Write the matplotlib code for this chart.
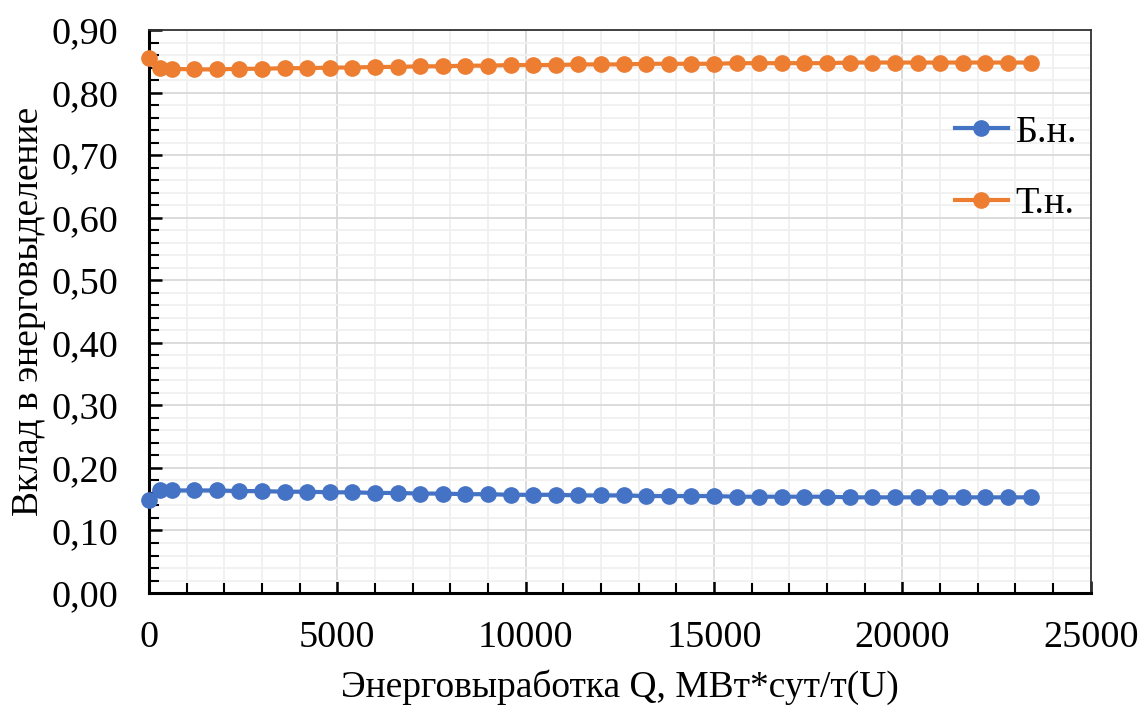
import matplotlib
matplotlib.use("Agg")
import matplotlib.pyplot as plt
from matplotlib.ticker import MultipleLocator, FuncFormatter

plt.rcParams['font.family'] = ['Liberation Serif', 'DejaVu Serif']

burnup = [0, 300, 600, 1200, 1800, 2400, 3000, 3600, 4200, 4800, 5400,
          6000, 6600, 7200, 7800, 8400, 9000, 9600, 10200, 10800, 11400,
          12000, 12600, 13200, 13800, 14400, 15000, 15600, 16200, 16800,
          17400, 18000, 18600, 19200, 19800, 20400, 21000, 21600, 22200,
          22800, 23400]

fast = [0.148, 0.164, 0.164, 0.164, 0.164, 0.163, 0.163, 0.162, 0.162, 0.161, 0.161,
        0.160, 0.160, 0.159, 0.159, 0.158, 0.158, 0.157, 0.157, 0.157, 0.156,
        0.156, 0.156, 0.155, 0.155, 0.155, 0.155, 0.154, 0.154, 0.154,
        0.154, 0.154, 0.153, 0.153, 0.153, 0.153, 0.153, 0.153, 0.153,
        0.153, 0.153]

thermal = [0.855, 0.839, 0.838, 0.837, 0.837, 0.838, 0.838, 0.839, 0.839, 0.840, 0.840,
           0.841, 0.841, 0.842, 0.842, 0.843, 0.843, 0.844, 0.844, 0.844, 0.845,
           0.845, 0.845, 0.846, 0.846, 0.846, 0.846, 0.847, 0.847, 0.847,
           0.847, 0.847, 0.848, 0.848, 0.848, 0.848, 0.848, 0.848, 0.848,
           0.848, 0.848]

series_labels = ["Б.н.", "Т.н."]
colors = ["#4472C4", "#ED7D31"]

fig = plt.figure(figsize=(11.41, 7.06), dpi=100)
ax = fig.add_axes([0.1306, 0.160, 0.8254, 0.7975])

for vals, lab, c in zip([fast, thermal], series_labels, colors):
    ax.plot(burnup, vals, color=c, lw=3, marker='o', ms=11, label=lab, zorder=3,
            clip_on=False)

ax.set_xlim(0, 25000)
ax.set_ylim(0, 0.90)
ax.xaxis.set_major_locator(MultipleLocator(5000))
ax.xaxis.set_minor_locator(MultipleLocator(1000))
ax.yaxis.set_major_locator(MultipleLocator(0.10))
ax.yaxis.set_minor_locator(MultipleLocator(0.02))
ax.yaxis.set_major_formatter(FuncFormatter(lambda v, p: f"{v:.2f}".replace('.', ',')))

ax.grid(which='major', color='#D9D9D9', lw=1.3, zorder=0)
ax.grid(which='minor', color='#F0F0F0', lw=1.3, zorder=0)
ax.set_axisbelow(True)

ax.tick_params(which='both', direction='in', labelsize=27.5, color='black')
ax.tick_params(axis='y', which='major', length=9, width=1.8, pad=22)
ax.tick_params(axis='y', which='minor', length=7, width=1.5)
ax.tick_params(axis='x', which='major', length=9, width=1.8, pad=20)
ax.tick_params(axis='x', which='minor', length=7, width=1.5)

for side in ['left', 'bottom']:
    ax.spines[side].set_linewidth(2.2)
    ax.spines[side].set_color('black')
for side in ['top', 'right']:
    ax.spines[side].set_linewidth(1.3)
    ax.spines[side].set_color('#333333')

ax.set_xlabel("Энерговыработка Q, МВт*сут/т(U)", fontsize=27, labelpad=10)
ax.set_ylabel("Вклад в энерговыделение", fontsize=27, labelpad=4)

leg = ax.legend(loc='upper right', bbox_to_anchor=(1.01, 0.89), frameon=False,
                fontsize=27.5, labelspacing=0.97, handlelength=1.4, handletextpad=0.2,
                borderaxespad=0.2)

fig.savefig("out.png", dpi=100)
